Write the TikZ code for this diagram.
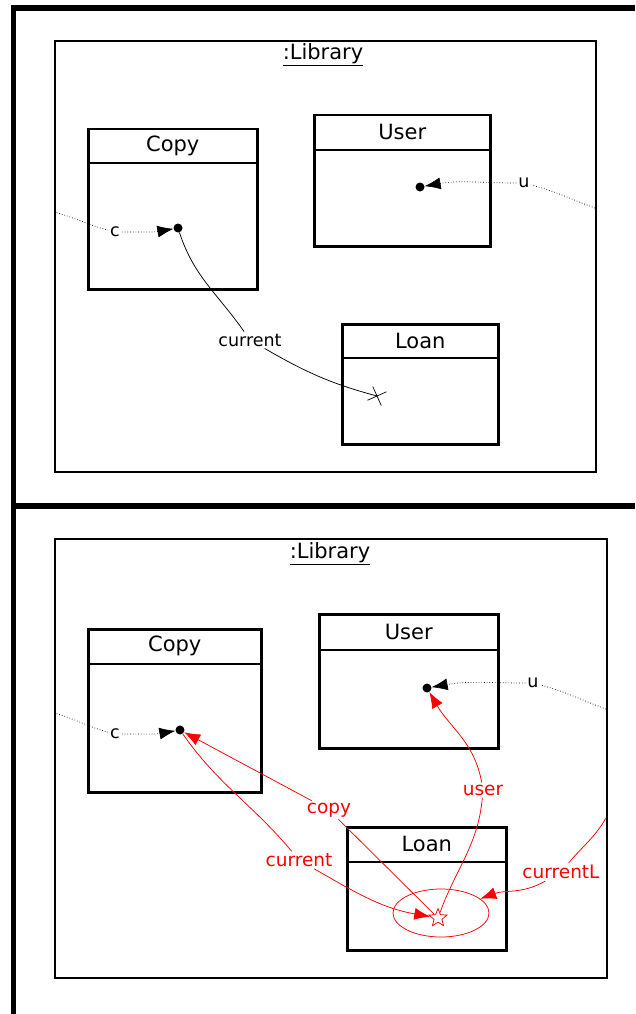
\documentclass[tikz,border=0pt]{standalone}
\usepackage{fontspec}
\setmainfont{DejaVu Sans}
\usetikzlibrary{arrows.meta,shapes.geometric,shapes.misc}

\begin{document}
\begin{tikzpicture}[x=1pt,y=-1pt,
    lib node/.style={draw,line width=1.6pt,anchor=north west,inner sep=0pt},
    class node/.style={draw,line width=2.5pt,anchor=north west,inner sep=0pt},
    head/.style={font=\fontsize{21}{25}\selectfont},
    dot node/.style={circle,fill,inner sep=0pt,minimum size=9pt},
    lbl/.style={font=\fontsize{17.5}{21}\selectfont,inner sep=2pt},
    red lbl/.style={lbl,text=red,font=\fontsize{18.5}{22}\selectfont},
    link/.style={dotted,line width=0.7pt},
    tip/.style={-{Latex[length=16pt,width=12pt]}},
    red link/.style={red,line width=0.75pt}]

  \useasboundingbox (0,0) rectangle (635,1014);

  % frame
  \draw[line width=5.5pt] (13.5,1014) -- (13.5,8) -- (635,8);
  \draw[line width=6pt] (13.5,505.5) -- (635,505.5);

  % ---- before ----
  \node[lib node, minimum width=541pt, minimum height=431pt] (libA) at (54,40) {};
  \node[head] (libAt) at (323,55) {\underline{:Library}};

  \node[class node, minimum width=169pt, minimum height=160pt] (copyA) at (87,128) {};
  \draw[line width=2.5pt] ([yshift=-35pt]copyA.north west) -- ([yshift=-35pt]copyA.north east);
  \node[head] (copyAt) at ([yshift=-17.5pt]copyA.north) {Copy};

  \node[class node, minimum width=176pt, minimum height=131pt] (userA) at (313,114) {};
  \draw[line width=2.5pt] ([yshift=-36pt]userA.north west) -- ([yshift=-36pt]userA.north east);
  \node[head] (userAt) at ([yshift=-18pt]userA.north) {User};

  \node[class node, minimum width=156pt, minimum height=120pt] (loanA) at (341,323) {};
  \draw[line width=2.5pt] ([yshift=-35pt]loanA.north west) -- ([yshift=-35pt]loanA.north east);
  \node[head] (loanAt) at ([yshift=-17.5pt]loanA.north) {Loan};

  \node[dot node] (dotcA) at (178,228) {};
  \node[dot node] (dotuA) at (420,187) {};
  \coordinate (cinA) at (54,212);
  \coordinate (uinA) at (595,208);
  \node[lbl] (cA) at (115,232) {c};
  \node[lbl] (uA) at (524,183) {u};
  \node[lbl] (curA) at (250,340) {current};
  \node[draw,cross out,rotate=-21,minimum size=14pt,inner sep=0pt,line width=0.7pt] (crossA) at (377,396) {};

  \draw[link] (cinA) to[out=-15,in=165] (cA);
  \draw[link,tip] (cA) to[out=0,in=190] (dotcA);
  \draw[link] (uinA) to[out=160,in=-15] (uA);
  \draw[link,tip] (uA) to[out=180,in=10] (dotuA);
  \draw[line width=0.75pt] (dotcA) to[out=-72,in=125] (curA);
  \draw[line width=0.75pt] (curA) to[out=-30,in=165] (crossA.center);

  % ---- after ----
  \node[lib node, minimum width=552pt, minimum height=439pt] (libB) at (54,538) {};
  \node[head] (libBt) at (330,554) {\underline{:Library}};

  \node[class node, minimum width=173pt, minimum height=163pt] (copyB) at (87,628) {};
  \draw[line width=2.5pt] ([yshift=-36pt]copyB.north west) -- ([yshift=-36pt]copyB.north east);
  \node[head] (copyBt) at ([yshift=-18pt]copyB.north) {Copy};

  \node[class node, minimum width=179pt, minimum height=134pt] (userB) at (318,613) {};
  \draw[line width=2.5pt] ([yshift=-37pt]userB.north west) -- ([yshift=-37pt]userB.north east);
  \node[head] (userBt) at ([yshift=-18.5pt]userB.north) {User};

  \node[class node, minimum width=159pt, minimum height=123pt] (loanB) at (346,826) {};
  \draw[line width=2.5pt] ([yshift=-36pt]loanB.north west) -- ([yshift=-36pt]loanB.north east);
  \node[head] (loanBt) at ([yshift=-18pt]loanB.north) {Loan};

  \node[dot node] (dotcB) at (180,730) {};
  \node[dot node] (dotuB) at (427,688) {};
  \coordinate (cinB) at (54,713);
  \coordinate (uinB) at (606,709);
  \node[lbl] (cB) at (115,734) {c};
  \node[lbl] (uB) at (533,683) {u};

  \draw[link] (cinB) to[out=-15,in=165] (cB);
  \draw[link,tip] (cB) to[out=0,in=190] (dotcB);
  \draw[link] (uinB) to[out=160,in=-15] (uB);
  \draw[link,tip] (uB) to[out=180,in=10] (dotuB);

  % new links
  \node[draw=red,ellipse,minimum width=96pt,minimum height=48pt,line width=0.75pt] (loanObj) at (441,913) {};
  \node[draw=red,star,star points=5,star point ratio=2.3,minimum size=19pt,inner sep=0pt,line width=0.75pt] (newL) at (438,918) {};
  \coordinate (curLin) at (606,818);
  \node[red lbl] (copyR) at (329,810) {copy};
  \node[red lbl] (curR) at (299,860) {current};
  \node[red lbl] (userR) at (483,790) {user};
  \node[red lbl] (curLR) at (561,872) {currentL};

  \draw[red link] (newL) -- (copyR);
  \draw[red link,tip] (copyR) -- (dotcB);
  \draw[red link] (dotcB) to[out=-55,in=130] (curR);
  \draw[red link,tip] (curR) to[out=-30,in=170] (newL);
  \draw[red link] (newL) to[out=70,in=-95] (userR);
  \draw[red link,tip] (userR) to[out=100,in=-60] (dotuB);
  \draw[red link] (curLin) to[out=-120,in=50] (curLR);
  \draw[red link,tip] (curLR) to[out=-150,in=20] (loanObj);
\end{tikzpicture}
\end{document}
